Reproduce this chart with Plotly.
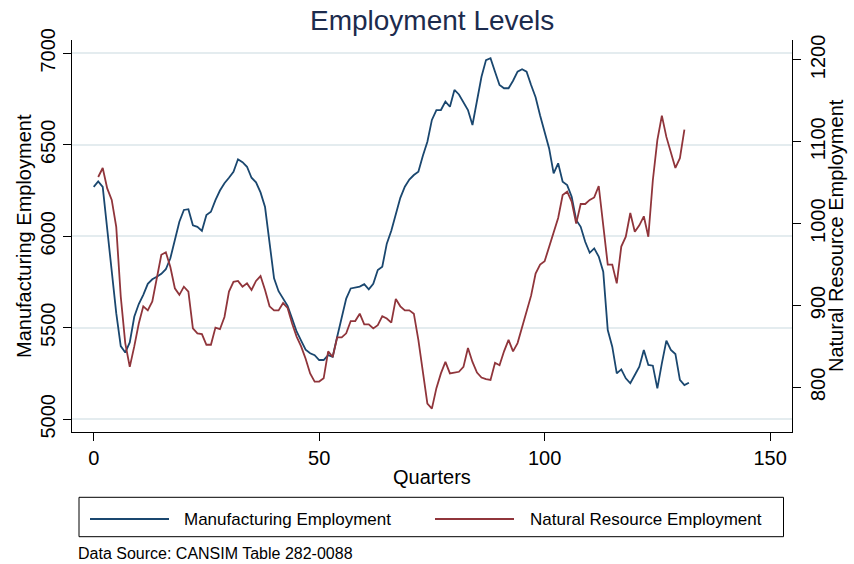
import plotly.graph_objects as go

# ---- data ----
manuf_x = list(range(0, 133))
manuf = [6270, 6300, 6270, 6040, 5800, 5580, 5400, 5365, 5420, 5560,
         5630, 5680, 5740, 5765, 5779, 5795, 5820, 5880, 5980, 6080,
         6144, 6148, 6060, 6052, 6030, 6116, 6134, 6198, 6250, 6290,
         6320, 6353, 6421, 6405, 6380, 6320, 6295, 6240, 6160, 5960,
         5770, 5700, 5660, 5620, 5550, 5480, 5430, 5380, 5361, 5350,
         5324, 5324, 5351, 5342, 5451, 5561, 5660, 5715, 5721, 5725,
         5738, 5710, 5740, 5816, 5834, 5960, 6030, 6120, 6210, 6271,
         6310, 6335, 6353, 6440, 6517, 6636, 6690, 6690, 6736, 6708,
         6800, 6775, 6730, 6690, 6608, 6745, 6872, 6963, 6973, 6899,
         6827, 6809, 6809, 6850, 6900, 6913, 6900, 6827, 6760, 6660,
         6570, 6480, 6344, 6399, 6298, 6280, 6216, 6089, 6052, 5970,
         5910, 5934, 5889, 5807, 5488, 5397, 5251, 5273, 5224, 5197,
         5242, 5287, 5379, 5297, 5293, 5169, 5306, 5430, 5379, 5357,
         5215, 5187, 5200]

natres_x = list(range(1, 132))
natres = [1057, 1068, 1043, 1029, 996, 911, 854, 825, 850, 878,
          899, 894, 905, 935, 962, 965, 947, 921, 913, 923,
          917, 872, 866, 865, 852, 852, 873, 871, 886, 917,
          929, 930, 923, 927, 919, 930, 936, 919, 899, 894,
          894, 903, 897, 878, 862, 850, 835, 817, 807, 807,
          811, 844, 837, 861, 861, 866, 881, 881, 890, 877,
          877, 872, 876, 887, 884, 879, 908, 899, 894, 894,
          890, 858, 821, 780, 774, 799, 817, 831, 817, 818,
          819, 825, 848, 831, 818, 812, 810, 809, 830, 827,
          844, 858, 844, 854, 874, 894, 912, 939, 950, 954,
          972, 988, 1007, 1035, 1039, 1027, 1000, 1024, 1024, 1029,
          1032, 1046, 996, 950, 950, 927, 972, 984, 1013, 990,
          998, 1009, 984, 1053, 1102, 1132, 1106, 1086, 1068, 1080,
          1115]

left_ticks = [5000, 5500, 6000, 6500, 7000]
right_ticks = [800, 900, 1000, 1100, 1200]
x_ticks = [0, 50, 100, 150]

names = ["Manufacturing Employment", "Natural Resource Employment"]
colors = ["#1a476f", "#90353b"]

FONT = "Liberation Sans, Arial, Helvetica, sans-serif"

fig = go.Figure()
fig.add_trace(go.Scatter(x=manuf_x, y=manuf, mode="lines", name=names[0],
                         line=dict(color=colors[0], width=1.8), yaxis="y"))
fig.add_trace(go.Scatter(x=natres_x, y=natres, mode="lines", name=names[1],
                         line=dict(color=colors[1], width=1.8), yaxis="y2"))

W, H = 854, 564
L, R, T, B = 72, 62, 40, 132
pw, ph = W - L - R, H - T - B

def px(xp):
    return (xp - L) / pw

def py(yp):
    return (T + ph - yp) / ph

fig.update_layout(
    width=W, height=H,
    margin=dict(l=L, r=R, t=T, b=B, pad=0),
    paper_bgcolor="white", plot_bgcolor="white",
    showlegend=False,
    font=dict(family=FONT, color="black"),
    xaxis=dict(range=[-4.81, 154.86], tickvals=x_ticks, ticks="outside",
               ticklen=8, tickcolor="black", showline=True, linecolor="black",
               linewidth=1, showgrid=False, zeroline=False,
               tickfont=dict(size=20, color="black")),
    yaxis=dict(range=[4930.6, 7072.7], tickvals=left_ticks, ticks="outside",
               ticklen=8, tickcolor="black", showline=True, linecolor="black",
               linewidth=1, showgrid=True, gridcolor="#e4ecef", gridwidth=1.5,
               zeroline=False, tickangle=-90,
               tickfont=dict(size=20, color="black")),
    yaxis2=dict(range=[745.4, 1224.4], tickvals=right_ticks, ticks="outside",
                ticklen=8, tickcolor="black", showline=True, linecolor="black",
                linewidth=1, showgrid=False, zeroline=False, tickangle=-90,
                overlaying="y", side="right",
                tickfont=dict(size=20, color="black")),
)

ann = []
ann.append(dict(text="Employment Levels", x=0.5, y=py(20), xref="paper", yref="paper",
                showarrow=False, xanchor="center", yanchor="middle",
                font=dict(size=28, color="#1c2b4d", family=FONT)))
ann.append(dict(text="Manufacturing Employment", x=px(24), y=0.5, xref="paper", yref="paper",
                showarrow=False, textangle=-90, xanchor="center", yanchor="middle",
                font=dict(size=20, color="black", family=FONT)))
ann.append(dict(text="Natural Resource Employment", x=px(836), y=0.5, xref="paper", yref="paper",
                showarrow=False, textangle=-90, xanchor="center", yanchor="middle",
                font=dict(size=20, color="black", family=FONT)))
ann.append(dict(text="Quarters", x=px(432), y=py(477), xref="paper", yref="paper",
                showarrow=False, xanchor="center", yanchor="middle",
                font=dict(size=20, color="black", family=FONT)))
ann.append(dict(text="Data Source: CANSIM Table 282-0088", x=px(76), y=py(553),
                xref="paper", yref="paper", showarrow=False, xanchor="left",
                yanchor="middle", font=dict(size=16, color="black", family=FONT)))

# custom legend
shapes = [dict(type="rect", xref="paper", yref="paper", x0=px(79), x1=px(783.5),
               y0=py(536.7), y1=py(497.3), line=dict(color="black", width=1),
               fillcolor="white")]
leg = [(90, 169, 182), (435, 514, 528)]
for (lx0, lx1, tx), nm, c in zip(leg, names, colors):
    shapes.append(dict(type="line", xref="paper", yref="paper", x0=px(lx0), x1=px(lx1),
                       y0=py(519), y1=py(519), line=dict(color=c, width=1.8)))
    ann.append(dict(text=nm, x=px(tx), y=py(519), xref="paper", yref="paper",
                    showarrow=False, xanchor="left", yanchor="middle",
                    font=dict(size=17, color="black", family=FONT)))

fig.update_layout(annotations=ann, shapes=shapes)
fig.write_html("out.html")
